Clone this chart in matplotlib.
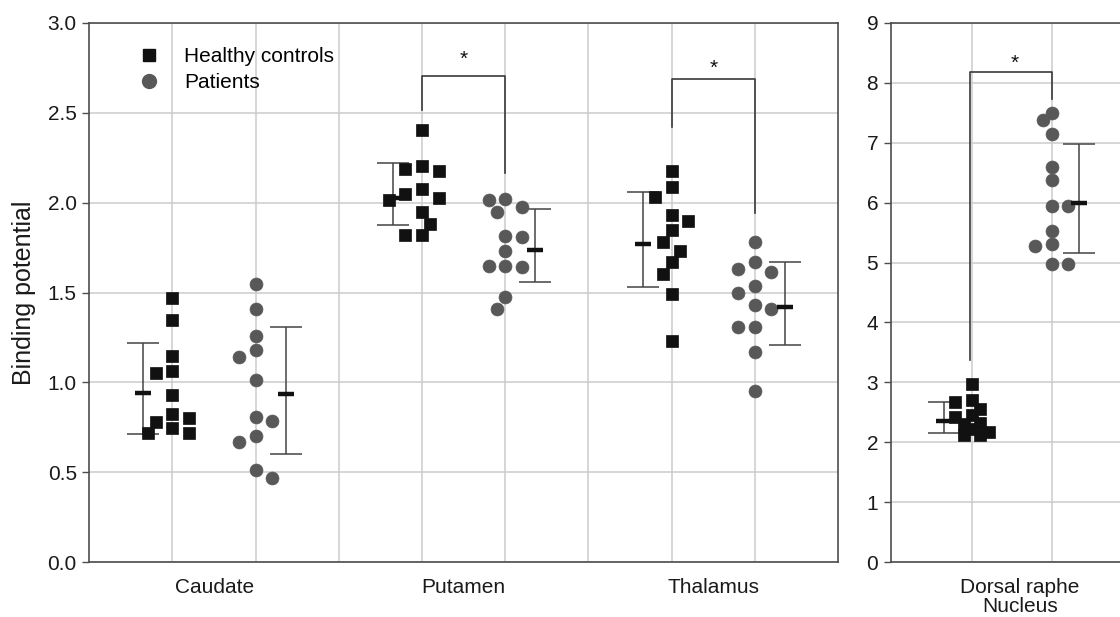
import numpy as np
import matplotlib
matplotlib.use('Agg')
import matplotlib.pyplot as plt
from matplotlib.lines import Line2D
from matplotlib.ticker import FormatStrFormatter

plt.rcParams['font.family'] = ['Liberation Sans', 'DejaVu Sans']

# ---------------- data ----------------
regions = ['Caudate', 'Putamen', 'Thalamus']
region_right = 'Dorsal raphe\nNucleus'
groups = ['Healthy controls', 'Patients']
ylabel = 'Binding potential'
left_yticks = [0.0, 0.5, 1.0, 1.5, 2.0, 2.5, 3.0]
right_yticks = [0, 1, 2, 3, 4, 5, 6, 7, 8, 9]

caudate_controls = [1.467, 1.346, 1.146, 1.054, 1.063, 0.928, 0.804, 0.822, 0.779, 0.744, 0.717, 0.720]
caudate_patients = [1.548, 1.409, 1.257, 1.180, 1.143, 1.013, 0.807, 0.785, 0.702, 0.670, 0.511, 0.470]
putamen_controls = [2.402, 2.189, 2.174, 2.202, 2.076, 2.050, 2.013, 2.026, 1.948, 1.883, 1.819, 1.819]
putamen_patients = [2.020, 2.017, 1.974, 1.946, 1.813, 1.807, 1.730, 1.646, 1.646, 1.643, 1.476, 1.409]
thalamus_controls = [2.178, 2.085, 2.031, 1.933, 1.896, 1.846, 1.780, 1.730, 1.669, 1.604, 1.494, 1.233]
thalamus_patients = [1.780, 1.669, 1.613, 1.631, 1.535, 1.498, 1.433, 1.406, 1.309, 1.309, 1.169, 0.952]
drn_controls = [2.98, 2.70, 2.68, 2.55, 2.45, 2.42, 2.33, 2.30, 2.22, 2.18, 2.12, 2.12]
drn_patients = [7.49, 7.38, 7.15, 6.59, 6.38, 5.94, 5.95, 5.52, 5.27, 5.31, 4.98, 4.98]

# summary bars: mean, lower end, upper end
controls_mean = [0.943, 2.026, 1.770]
controls_low = [0.715, 1.874, 1.530]
controls_high = [1.217, 2.220, 2.057]
patients_mean = [0.933, 1.735, 1.419]
patients_low = [0.604, 1.557, 1.206]
patients_high = [1.307, 1.965, 1.671]
drn_mean = [2.355, 5.990]
drn_low = [2.160, 5.160]
drn_high = [2.680, 6.980]

# significance brackets: (left end, top, right end)
bracket_putamen = (2.514, 2.705, 2.162)
bracket_thalamus = (2.418, 2.685, 1.940)
bracket_drn = (3.38, 8.18, 7.72)

# ---------------- style ----------------
C_CTRL = '#111111'
C_PAT = '#585858'
C_SPINE = '#4d4d4d'
C_GRID = '#cccccc'
C_ERR = '#444444'
FS = 15

W, H = 1120, 617
fig = plt.figure(figsize=(W / 100, H / 100), dpi=100)
axL = fig.add_axes([89.3 / W, 54.7 / H, 748.7 / W, 539.6 / H])
axR = fig.add_axes([890.7 / W, 54.7 / H, (W - 890.7) / W, 539.6 / H])

axL.set_xlim(0, 9)
axL.set_ylim(0, 3)
axR.set_xlim(-0.023, 2.86)
axR.set_ylim(0, 9)


def swarm(ax, vals, d_px=13.5, step_px=8.3):
    """Simple beeswarm with alternating side preference; returns x offsets (data units)."""
    vals = np.asarray(vals, float)
    p0 = ax.transData.transform((0, 0))
    p1 = ax.transData.transform((1, 1))
    sx, sy = p1[0] - p0[0], p1[1] - p0[1]
    placed = []
    offs = np.zeros(len(vals))
    side = -1
    for i in np.argsort(-vals, kind='stable'):
        y = vals[i] * sy
        cands = [0.0]
        for j in range(1, 8):
            cands += [side * j * step_px, -side * j * step_px]
        chosen = cands[-1]
        for c in cands:
            if all((c - px) ** 2 + (y - py) ** 2 >= d_px ** 2 for px, py in placed):
                chosen = c
                break
        if chosen != 0:
            side = -np.sign(chosen)
        placed.append((chosen, y))
        offs[i] = chosen / sx
    return offs


def draw_group(ax, center, vals, marker, color, ms, mean, lo, hi, err_dx, d_px=13.5):
    offs = swarm(ax, vals, d_px=d_px)
    ax.plot(center + offs, vals, ls='none', marker=marker, ms=ms, color=color,
            mec=color, mew=0.5, zorder=4, clip_on=False)
    xe = center + err_dx
    ax.errorbar([xe], [mean], yerr=[[mean - lo], [hi - mean]], fmt='none',
                ecolor=C_ERR, elinewidth=1.1, capsize=11.5, capthick=1.1, zorder=3)
    ax.plot([xe], [mean], marker='_', ms=11, mew=3.2, color='#111111', zorder=5)


left_data = [(caudate_controls, caudate_patients),
             (putamen_controls, putamen_patients),
             (thalamus_controls, thalamus_patients)]
for k, (cv, pv) in enumerate(left_data):
    xc = 1 + 3 * k
    xp = 2 + 3 * k
    draw_group(axL, xc, cv, 's', C_CTRL, 8.3, controls_mean[k], controls_low[k], controls_high[k], -0.35)
    draw_group(axL, xp, pv, 'o', C_PAT, 9.3, patients_mean[k], patients_low[k], patients_high[k], 0.36)

draw_group(axR, 1, drn_controls, 's', C_CTRL, 8.3, drn_mean[0], drn_low[0], drn_high[0], -0.35, d_px=9.0)
draw_group(axR, 2, drn_patients, 'o', C_PAT, 9.3, drn_mean[1], drn_low[1], drn_high[1], 0.35, d_px=9.0)


def bracket(ax, x1, x2, b, star_x, star_y):
    ax.plot([x1, x1, x2, x2], [b[0], b[1], b[1], b[2]], color='#3a3a3a', lw=1.2, zorder=3)
    ax.text(star_x, star_y, '*', ha='center', va='baseline', fontsize=FS, color='#111111')


bracket(axL, 4, 5, bracket_putamen, 4.5, 2.765)
bracket(axL, 7, 8, bracket_thalamus, 7.5, 2.715)
bracket(axR, 0.97, 2, bracket_drn, 1.53, 8.235)

# ---------------- axes styling ----------------
for ax in (axL, axR):
    ax.set_axisbelow(True)
    for s in ax.spines.values():
        s.set_color(C_SPINE)
        s.set_linewidth(1.2)
    ax.tick_params(axis='y', direction='out', length=5, width=1.0, color=C_SPINE,
                   labelsize=FS, pad=4, labelcolor='#1a1a1a')
    ax.tick_params(axis='x', which='major', length=0, labelsize=FS, pad=11.5, labelcolor='#1a1a1a')
    ax.tick_params(axis='x', which='minor', length=0)
    ax.grid(axis='y', which='major', color=C_GRID, lw=1.1)
    ax.grid(axis='x', which='minor', color=C_GRID, lw=1.1)

axR.spines['right'].set_visible(False)

axL.set_yticks(left_yticks)
axL.yaxis.set_major_formatter(FormatStrFormatter('%.1f'))
axL.set_xticks([1.5, 4.5, 7.5])
axL.set_xticklabels(regions)
axL.set_xticks(np.arange(1, 9), minor=True)

axR.set_yticks(right_yticks)
axR.set_xticks([1.6])
axR.set_xticklabels([region_right])
for t in axR.get_xticklabels():
    t.set_linespacing(0.95)
axR.set_xticks([1, 2], minor=True)

axL.set_ylabel(ylabel, fontsize=18, color='#1a1a1a')
axL.yaxis.set_label_coords(-0.071, 0.5)

handles = [Line2D([], [], ls='none', marker='s', ms=8.5, color=C_CTRL),
           Line2D([], [], ls='none', marker='o', ms=10, color=C_PAT)]
axL.legend(handles, groups, loc='upper left', bbox_to_anchor=(0.0658, 0.955),
           frameon=False, fontsize=FS, handlelength=1.0, handletextpad=1.18,
           labelspacing=0.35, borderpad=0, borderaxespad=0)

fig.savefig('out.png', dpi=100)
